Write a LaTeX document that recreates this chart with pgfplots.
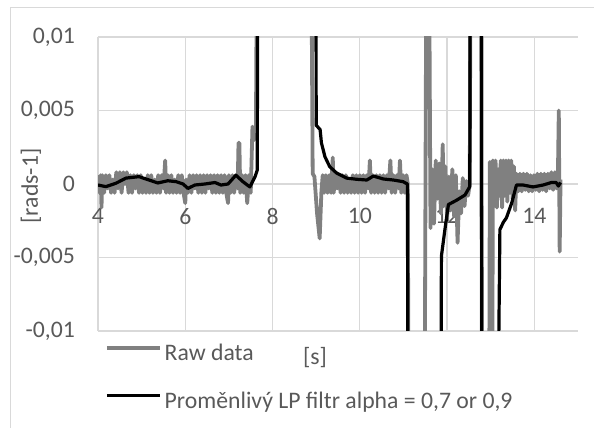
\documentclass[border=0pt]{standalone}
\usepackage{pgfplots}
\pgfplotsset{compat=1.18}
\usepackage{pgfplotstable}
\usepackage{fontspec}
\setmainfont{Carlito}

\definecolor{txt}{HTML}{595959}
\definecolor{grd}{HTML}{D9D9D9}
\definecolor{raw}{HTML}{808080}

% raw angular rate (gray)
\pgfplotstableread{
x y
4.00 0.0006
4.04 -0.0006
4.06 0.0006
4.08 -0.0016
4.10 0.0006
4.14 -0.0006
4.18 0.0006
4.22 -0.0003
4.26 0.0006
4.30 -0.0006
4.34 0.0003
4.38 -0.0006
4.42 0.0008
4.46 -0.0003
4.50 0.0008
4.54 -0.0006
4.58 0.0008
4.62 0.0000
4.66 0.0008
4.70 -0.0006
4.74 0.0006
4.78 -0.0006
4.82 0.0006
4.86 -0.0003
4.90 0.0006
4.94 -0.0006
4.98 0.0006
5.02 -0.0006
5.06 0.0003
5.10 -0.0006
5.14 0.0006
5.18 -0.0006
5.22 0.0006
5.26 -0.0006
5.30 0.0003
5.34 -0.0006
5.38 0.0006
5.42 -0.0006
5.46 0.0006
5.50 -0.0003
5.54 0.0016
5.56 -0.0006
5.60 0.0006
5.64 -0.0006
5.68 0.0006
5.72 -0.0006
5.76 0.0003
5.80 -0.0006
5.84 0.0006
5.88 -0.0006
5.92 0.0006
5.96 -0.0006
6.00 -0.0013
6.02 0.0003
6.06 -0.0006
6.10 0.0006
6.14 -0.0006
6.18 0.0006
6.22 -0.0003
6.26 0.0006
6.30 -0.0006
6.34 0.0006
6.38 -0.0006
6.42 0.0006
6.46 -0.0006
6.50 0.0006
6.54 -0.0003
6.58 0.0006
6.62 -0.0006
6.66 0.0006
6.70 -0.0006
6.74 0.0006
6.78 -0.0006
6.82 0.0006
6.86 -0.0006
6.90 0.0006
6.94 -0.0006
6.98 -0.0013
7.00 0.0006
7.04 -0.0006
7.08 0.0006
7.12 -0.0006
7.16 0.0006
7.20 -0.0003
7.22 0.0028
7.24 0.0028
7.26 -0.0006
7.30 0.0006
7.34 -0.0006
7.38 0.0006
7.42 -0.0013
7.46 0.0006
7.50 -0.0006
7.54 0.0039
7.58 0.0030
7.62 0.0040
7.65 0.0200
8.88 0.0200
8.92 0.0007
8.96 0.0005
9.02 -0.0020
9.08 -0.0037
9.12 -0.0005
9.15 0.0006
9.18 -0.0006
9.22 0.0006
9.26 -0.0006
9.30 0.0006
9.34 -0.0006
9.38 0.0018
9.40 -0.0006
9.44 0.0006
9.48 -0.0003
9.52 0.0006
9.56 -0.0006
9.60 0.0006
9.64 -0.0006
9.68 0.0006
9.72 -0.0006
9.76 0.0003
9.80 -0.0006
9.84 0.0006
9.88 -0.0006
9.92 0.0006
9.96 -0.0006
10.00 0.0006
10.04 -0.0006
10.08 0.0006
10.12 -0.0006
10.16 0.0006
10.20 -0.0003
10.23 0.0016
10.26 -0.0006
10.30 0.0006
10.34 -0.0006
10.38 0.0006
10.42 -0.0006
10.46 0.0006
10.50 -0.0006
10.54 0.0006
10.58 -0.0006
10.62 0.0006
10.66 -0.0003
10.70 0.0016
10.73 -0.0006
10.77 0.0006
10.81 -0.0006
10.85 0.0006
10.89 -0.0003
10.92 0.0016
10.95 -0.0006
10.99 0.0006
11.03 -0.0006
11.07 0.0006
11.10 0.0000
11.12 -0.0200
11.48 -0.0200
11.53 0.0200
11.58 0.0200
11.62 -0.0030
11.66 0.0010
11.70 -0.0027
11.74 0.0016
11.78 -0.0010
11.82 0.0014
11.86 -0.0020
11.90 0.0027
11.92 -0.0015
11.96 0.0012
12.00 -0.0025
12.04 0.0005
12.08 -0.0018
12.12 0.0010
12.16 -0.0022
12.20 0.0006
12.24 -0.0040
12.28 -0.0005
12.32 -0.0020
12.36 0.0004
12.40 -0.0015
12.44 0.0002
12.48 -0.0008
12.52 0.0000
12.54 0.0200
12.78 0.0200
12.80 -0.0200
12.96 -0.0200
12.98 0.0015
13.00 -0.0200
13.03 -0.0200
13.05 0.0016
13.08 -0.0012
13.11 0.0016
13.14 -0.0016
13.17 0.0010
13.20 -0.0008
13.23 0.0016
13.26 -0.0016
13.29 0.0016
13.32 -0.0008
13.35 0.0016
13.38 -0.0012
13.41 0.0016
13.44 -0.0006
13.47 0.0016
13.50 -0.0010
13.53 0.0012
13.56 -0.0018
13.59 0.0007
13.63 -0.0005
13.67 0.0007
13.71 -0.0005
13.75 0.0007
13.79 -0.0004
13.83 0.0007
13.87 -0.0005
13.91 0.0006
13.95 -0.0005
13.99 0.0006
14.03 -0.0004
14.07 0.0007
14.11 -0.0005
14.15 0.0007
14.19 -0.0004
14.23 0.0007
14.27 -0.0005
14.31 0.0007
14.35 -0.0003
14.39 0.0008
14.43 -0.0004
14.47 0.0008
14.51 -0.0003
14.54 0.0007
14.56 0.0050
14.58 -0.0046
14.60 0.0003
}\rawdata

% variable LP filter output (black)
\pgfplotstableread{
x y
4.00 -0.00007
4.18 -0.00018
4.41 0.00005
4.64 0.00040
4.94 0.00050
5.17 0.00027
5.37 0.00007
5.60 0.00022
5.79 0.00016
5.95 0.00000
6.06 -0.00030
6.22 -0.00007
6.45 0.00000
6.68 0.00010
6.82 -0.00007
6.98 0.00000
7.16 0.00060
7.32 0.00016
7.48 -0.00020
7.60 0.00050
7.65 0.00095
7.67 0.03000
8.99 0.03000
9.00 0.00400
9.09 0.00370
9.12 0.00280
9.20 0.00186
9.31 0.00118
9.47 0.00074
9.70 0.00040
9.93 0.00032
10.16 0.00027
10.31 0.00054
10.54 0.00034
10.77 0.00027
10.99 0.00016
11.09 0.00000
11.12 -0.03000
11.84 -0.03000
11.87 -0.00490
11.95 -0.00310
12.03 -0.00140
12.22 -0.00110
12.41 -0.00075
12.52 -0.00018
12.54 0.03000
12.78 0.03000
12.80 -0.03000
13.12 -0.03000
13.21 -0.00310
13.29 -0.00260
13.36 -0.00230
13.48 -0.00130
13.59 -0.00007
13.74 -0.00007
13.97 -0.00020
14.20 -0.00007
14.39 0.00010
14.50 0.00010
14.55 -0.00014
14.60 0.00010
}\lpdata

\begin{document}
\begin{tikzpicture}
\useasboundingbox (0,0) rectangle (594bp,428bp);
\draw[grd, line width=1bp] (10bp,0) -- (10bp,420bp) -- (594bp,420bp);
\begin{axis}[
    at={(98bp,97bp)}, anchor=south west,
    scale only axis, width=480bp, height=294bp,
    xmin=4, xmax=15, ymin=-0.01, ymax=0.01,
    scaled y ticks=false, scaled x ticks=false,
    font=\fontsize{23.8}{28}\selectfont,
    axis line style={draw=none},
    major tick length=0pt,
    grid=major,
    grid style={grd, line width=1.3bp},
    xtick={4,6,8,10,12,14},
    xticklabels={4,6,8,10,12,14},
    ytick={-0.01,-0.005,0,0.005,0.01},
    yticklabels={{-0,01},{-0,005},{0},{0,005},{0,01}},
    xticklabel style={txt, anchor=north, inner sep=0pt, yshift=123bp},
    yticklabel style={txt, anchor=east, inner sep=0pt, xshift=-23bp},
    xlabel={[s]},
    ylabel={[rads-1]},
    xlabel style={txt, at={(axis description cs:0.452,-0.092)}, anchor=center},
    ylabel style={txt, at={(axis description cs:-0.14,0.493)}, anchor=center},
    legend cell align=left,
    legend style={draw=none, fill=none, inner sep=0pt, text=txt,
        at={(axis description cs:0.014,-0.044)}, anchor=north west,
        row sep=27bp, column sep=3bp,
        nodes={inner sep=0pt, text height=16bp, text depth=5bp}},
    legend image code/.code={\draw[#1] (0bp,7bp) -- (53bp,7bp);},
]
\addplot[raw, line width=3.8bp, line join=round] table[x=x, y=y] {\rawdata};
\addlegendentry{Raw data}
\addplot[black, line width=3.2bp, line join=round] table[x=x, y=y] {\lpdata};
\addlegendentry{{Proměnlivý LP filtr alpha = 0,7 or 0,9}}
\end{axis}
\end{tikzpicture}
\end{document}
